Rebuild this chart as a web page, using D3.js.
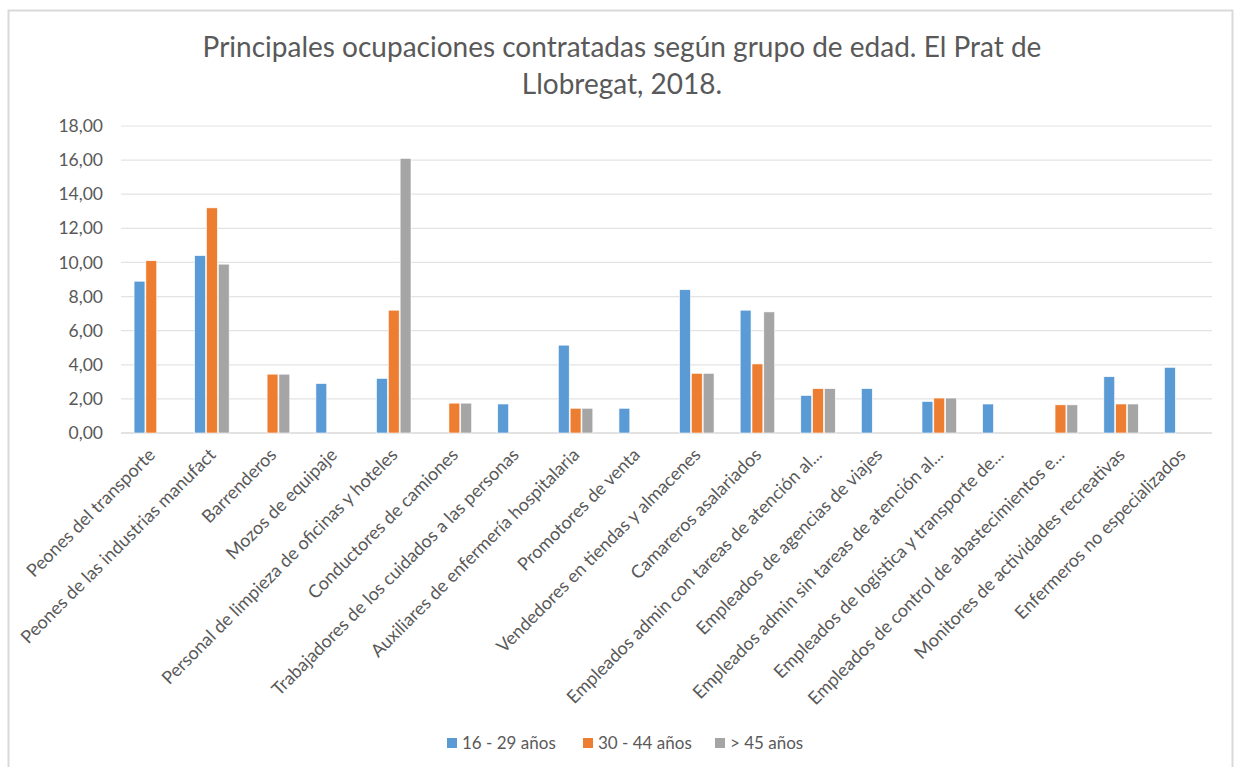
<!DOCTYPE html>
<html>
<head>
<meta charset="utf-8">
<script src="https://cdn.jsdelivr.net/npm/d3@7"></script>
<style>
  body { margin: 0; background: #fff; }
  text { font-family: Lato, "Open Sans", sans-serif; fill: #595959; }
</style>
</head>
<body>
<div id="chart"></div>
<script>
(function(){
// categories (occupations), as printed on the axis
const categories = [
  "Peones del transporte",
  "Peones de las industrias manufact",
  "Barrenderos",
  "Mozos de equipaje",
  "Personal de limpieza de oficinas y hoteles",
  "Conductores de camiones",
  "Trabajadores de los cuidados a las personas",
  "Auxiliares de enfermería hospitalaria",
  "Promotores de venta",
  "Vendedores en tiendas y almacenes",
  "Camareros asalariados",
  "Empleados admin con tareas de atención al...",
  "Empleados de agencias de viajes",
  "Empleados admin sin tareas de atención al...",
  "Empleados de logística y transporte de...",
  "Empleados de control de abastecimientos e...",
  "Monitores de actividades recreativas",
  "Enfermeros no especializados"
];

const seriesNames = ["16 - 29 años", "30 - 44 años", "> 45 años"];

// values per age group (null = no bar)
const age16_29 = [8.9, 10.4, null, 2.9, 3.2, null, 1.7, 5.15, 1.45, 8.4, 7.2, 2.2, 2.6, 1.85, 1.7, null, 3.3, 3.85];
const age30_44 = [10.1, 13.2, 3.45, null, 7.2, 1.75, null, 1.45, null, 3.5, 4.05, 2.6, null, 2.05, null, 1.65, 1.7, null];
const age45 = [null, 9.9, 3.45, null, 16.1, 1.75, null, 1.45, null, 3.5, 7.1, 2.6, null, 2.05, null, 1.65, 1.7, null];

const yTicks = [0, 2, 4, 6, 8, 10, 12, 14, 16, 18];

const W = 1234, H = 767;
const margin = { top: 126, right: 22, bottom: 334, left: 121 };
const width = W - margin.left - margin.right,
      height = H - margin.top - margin.bottom;

const color = d3.scaleOrdinal()
  .domain(seriesNames)
  .range(["#5b9bd5", "#ed7d31", "#a5a5a5"]);

const svg = d3.select("#chart").append("svg")
  .attr("width", W)
  .attr("height", H);

// chart border
svg.append("rect")
  .attr("x", 8.5).attr("y", 10.5)
  .attr("width", W - 10).attr("height", H)
  .attr("fill", "none")
  .attr("stroke", "#d9d9d9")
  .attr("stroke-width", 2);

// title
const title = svg.append("text")
  .attr("text-anchor", "middle")
  .style("font-size", "28px");
title.append("tspan").attr("x", 622).attr("y", 57)
  .text("Principales ocupaciones contratadas según grupo de edad. El Prat de");
title.append("tspan").attr("x", 622).attr("y", 94)
  .text("Llobregat, 2018.");

const g = svg.append("g")
  .attr("transform", "translate(" + margin.left + "," + margin.top + ")");

const x0 = d3.scaleBand()
  .domain(categories)
  .range([0, width])
  .paddingInner(0.4)
  .paddingOuter(0.2);

const x1 = d3.scaleBand()
  .domain(seriesNames)
  .range([0, x0.bandwidth()])
  .padding(0.08);

const y = d3.scaleLinear()
  .domain([0, 18])
  .range([height, 0]);

// gridlines
g.selectAll("line.grid")
  .data(yTicks)
  .join("line")
  .attr("class", "grid")
  .attr("x1", 0).attr("x2", width)
  .attr("y1", d => y(d)).attr("y2", d => y(d))
  .attr("stroke", d => d === 0 ? "#d9d9d9" : "#e3e3e3")
  .attr("stroke-width", d => d === 0 ? 1.5 : 1.2);

// y axis labels
const yAxis = d3.axisLeft(y)
  .tickValues(yTicks)
  .tickSize(0)
  .tickPadding(18)
  .tickFormat(d => d3.format(".2f")(d).replace(".", ","));
g.append("g")
  .call(yAxis)
  .call(s => s.select(".domain").remove())
  .selectAll("text")
  .style("font-size", "17.5px")
  .attr("fill", "#595959");

// bars
const table = categories.map((c, i) => ({
  cat: c,
  vals: [age16_29[i], age30_44[i], age45[i]]
}));

const groups = g.selectAll("g.cat")
  .data(table)
  .join("g")
  .attr("class", "cat")
  .attr("transform", d => "translate(" + x0(d.cat) + ",0)");

groups.selectAll("rect")
  .data(d => d.vals.map((v, k) => ({ key: seriesNames[k], value: v })).filter(e => e.value != null))
  .join("rect")
  .attr("x", d => x1(d.key))
  .attr("width", x1.bandwidth())
  .attr("y", d => y(d.value))
  .attr("height", d => y(0) - y(d.value))
  .attr("fill", d => color(d.key))
  .attr("stroke", "#fff")
  .attr("stroke-width", 0.6);

// rotated category labels
g.append("g")
  .selectAll("text")
  .data(categories)
  .join("text")
  .attr("text-anchor", "end")
  .attr("transform", d => "translate(" + (x0(d) + x0.bandwidth() / 2 + 5) + "," + (height + 23) + ") rotate(-45)")
  .style("font-size", "18px")
  .text(d => d);

// legend
const legendX = [447, 583, 715];
const legend = svg.append("g")
  .selectAll("g")
  .data(seriesNames)
  .join("g")
  .attr("transform", (d, i) => "translate(" + legendX[i] + ",743)");
legend.append("rect")
  .attr("x", 0).attr("y", -5)
  .attr("width", 10).attr("height", 10)
  .attr("fill", d => color(d));
legend.append("text")
  .attr("x", 15).attr("y", 6)
  .style("font-size", "17px")
  .text(d => d);
})();
</script>
</body>
</html>
